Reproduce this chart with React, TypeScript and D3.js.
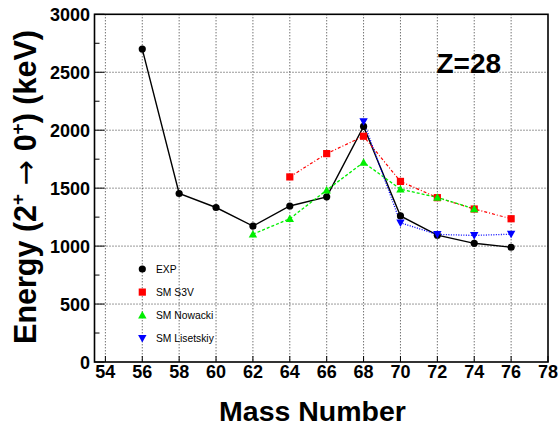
import React from "react";
import * as d3 from "d3";

const massExp = [56, 58, 60, 62, 64, 66, 68, 70, 72, 74, 76];
const energyExp = [2700, 1454, 1333, 1173, 1346, 1425, 2033, 1260, 1094, 1024, 990];
const massS3V = [64, 66, 68, 70, 72, 74, 76];
const energyS3V = [1597, 1798, 1948, 1558, 1418, 1320, 1236];
const massNowacki = [62, 64, 66, 68, 70, 72, 74];
const energyNowacki = [1103, 1236, 1483, 1722, 1491, 1420, 1322];
const massLisetskiy = [68, 70, 72, 74, 76];
const energyLisetskiy = [2075, 1201, 1101, 1092, 1103];
const xTicks = [54, 56, 58, 60, 62, 64, 66, 68, 70, 72, 74, 76, 78];
const yTicks = [0, 500, 1000, 1500, 2000, 2500, 3000];
const yMinorTicks = [250, 750, 1250, 1750, 2250, 2750];
const legendLabels = ["EXP", "SM S3V", "SM Nowacki", "SM Lisetskiy"];

const W = 558, H = 425;
const L = 94.5, R = 548, T = 14.3, B = 362;
const x = d3.scaleLinear().domain([53.41, 78]).range([L, R]);
const y = d3.scaleLinear().domain([0, 3000]).range([B, T]);

type Series = { xs: number[]; ys: number[]; color: string; dash: string; width: number; marker: string };

const series: Series[] = [
  { xs: massExp, ys: energyExp, color: "#000000", dash: "", width: 1.4, marker: "circle" },
  { xs: massS3V, ys: energyS3V, color: "#ff0000", dash: "3,2,1,2", width: 1.2, marker: "square" },
  { xs: massNowacki, ys: energyNowacki, color: "#00ee00", dash: "3,2", width: 1.3, marker: "up" },
  { xs: massLisetskiy, ys: energyLisetskiy, color: "#0000ff", dash: "1,1.5", width: 1.3, marker: "down" },
];

function Marker({ kind, cx, cy, color }: { kind: string; cx: number; cy: number; color: string }) {
  if (kind === "circle") return <circle cx={cx} cy={cy} r={3.6} fill={color} />;
  if (kind === "square") return <rect x={cx - 3.6} y={cy - 3.6} width={7.2} height={7.2} fill={color} />;
  const s = 4.2;
  if (kind === "up")
    return <path d={`M${cx},${cy - s} L${cx + s},${cy + s * 0.8} L${cx - s},${cy + s * 0.8} Z`} fill={color} />;
  return <path d={`M${cx},${cy + s} L${cx + s},${cy - s * 0.8} L${cx - s},${cy - s * 0.8} Z`} fill={color} />;
}

export default function App() {
  const line = d3.line<[number, number]>().x((d) => x(d[0])).y((d) => y(d[1]));
  const font = "'Liberation Sans', Arial, Helvetica, sans-serif";
  return (
    <svg width={W} height={H} style={{ position: "absolute", left: 0, top: 0 }} fontFamily={font}>
      <rect x={0} y={0} width={W} height={H} fill="#fff" />
      {/* grid */}
      {xTicks.filter((t) => t < 78).map((t) => (
        <line key={"gx" + t} x1={x(t)} x2={x(t)} y1={T} y2={B} stroke="#000" strokeWidth={0.8} strokeDasharray="1,2" />
      ))}
      {yTicks.filter((t) => t > 0 && t < 3000).map((t) => (
        <line key={"gy" + t} x1={L} x2={R} y1={y(t)} y2={y(t)} stroke="#000" strokeWidth={0.8} strokeDasharray="1,2" />
      ))}
      {/* ticks */}
      {xTicks.map((t) => (
        <line key={"tx" + t} x1={x(t)} x2={x(t)} y1={B} y2={B - 6} stroke="#000" strokeWidth={1} />
      ))}
      {yTicks.map((t) => (
        <line key={"ty" + t} x1={L} x2={L + 10} y1={y(t)} y2={y(t)} stroke="#000" strokeWidth={1} />
      ))}
      {yMinorTicks.map((t) => (
        <line key={"tym" + t} x1={L} x2={L + 5} y1={y(t)} y2={y(t)} stroke="#000" strokeWidth={1} />
      ))}
      {/* series */}
      {series.map((s, i) => (
        <path key={"l" + i} d={line(s.xs.map((v, j) => [v, s.ys[j]] as [number, number])) || ""} fill="none"
          stroke={s.color} strokeWidth={s.width} strokeDasharray={s.dash || undefined} />
      ))}
      {series.map((s, i) => (
        <g key={"m" + i}>
          {s.xs.map((v, j) => (
            <Marker key={j} kind={s.marker} cx={x(v)} cy={y(s.ys[j])} color={s.color} />
          ))}
        </g>
      ))}
      {/* frame */}
      <rect x={L} y={T} width={R - L} height={B - T} fill="none" stroke="#000" strokeWidth={1.6} />
      {/* tick labels */}
      {xTicks.map((t) => (
        <text key={"lx" + t} x={x(t)} y={378} textAnchor="middle" fontSize={18} fontWeight="bold">{t}</text>
      ))}
      {yTicks.map((t) => (
        <text key={"ly" + t} x={90} y={y(t) + 6.5} textAnchor="end" fontSize={18} fontWeight="bold">{t}</text>
      ))}
      {/* titles */}
      <text x={312.5} y={420.5} textAnchor="middle" fontSize={28.5} fontWeight="bold">Mass Number</text>
      <text transform="translate(35.5,187) rotate(-90)" textAnchor="middle" fontSize={30.5} fontWeight="bold">
        Energy (2<tspan dy={-12} fontSize={19}>+</tspan><tspan dy={12}> </tspan>
        <tspan fontWeight="normal" fontFamily="'DejaVu Sans', sans-serif">→</tspan> 0<tspan dy={-12} fontSize={19}>+</tspan><tspan dy={12}>) (keV)</tspan>
      </text>
      <text x={436.5} y={72.7} fontSize={28} fontWeight="bold">Z=28</text>
      {/* legend */}
      {series.map((s, i) => (
        <g key={"lg" + i}>
          <Marker kind={s.marker} cx={142.3} cy={269 + i * 23.1} color={s.color} />
          <text x={156} y={269 + i * 23.1 + 3.6} fontSize={10.3}>{legendLabels[i]}</text>
        </g>
      ))}
    </svg>
  );
}
